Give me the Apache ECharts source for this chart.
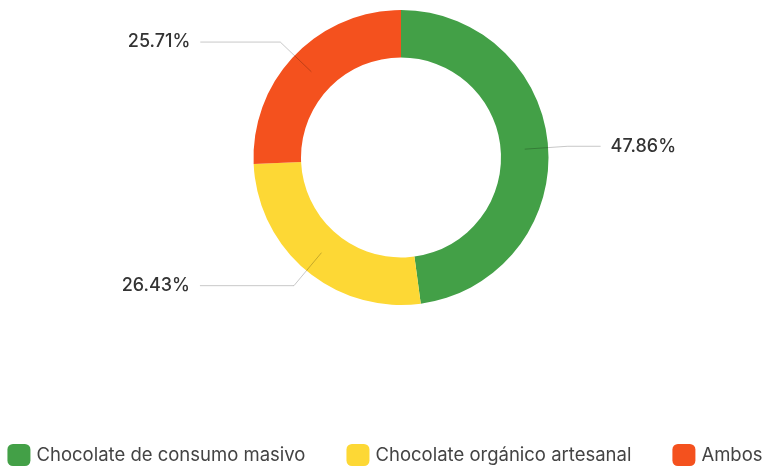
<!DOCTYPE html>
<html>
<head>
<meta charset="utf-8">
<script src="https://cdn.jsdelivr.net/npm/echarts@6/dist/echarts.min.js"></script>
<style>
  html, body { margin: 0; padding: 0; background: #ffffff; }
  #chart { width: 770px; height: 468px; }
</style>
</head>
<body>
<div id="chart"></div>
<script>
// Preferencia de chocolate (% de respuestas)
const categories = ['Chocolate de consumo masivo', 'Chocolate orgánico artesanal', 'Ambos'];
const shares = [47.86, 26.43, 25.71];
const colors = ['#43a047', '#fdd835', '#f4511e'];

// Per-slice length of the horizontal part of each label leader line
const leaderTail = [33, 94, 80];

const FONT = 'Inter, "Noto Sans", sans-serif';
const CENTER = [401, 157.5];

const ringData = categories.map((name, i) => ({
  name,
  value: shares[i],
  itemStyle: { color: colors[i] }
}));

// Transparent copy of the ring, so the leader lines start in the middle of the band
const labelData = categories.map((name, i) => ({
  name,
  value: shares[i],
  labelLine: { length2: leaderTail[i] }
}));

const chart = echarts.init(document.getElementById('chart'), null, { renderer: 'canvas' });

chart.setOption({
  animation: false,
  backgroundColor: '#ffffff',
  legend: {
    data: categories,
    left: 'center',
    top: 444,
    padding: 0,
    itemWidth: 23,
    itemHeight: 22,
    itemGap: 41,
    icon: 'roundRect',
    textStyle: { fontFamily: FONT, fontSize: 18.5, color: '#444444', padding: [0, 0, 0, 1] }
  },
  series: [
    {
      type: 'pie',
      z: 1,
      center: CENTER,
      radius: [100, 147.5],
      startAngle: 90,
      clockwise: true,
      label: { show: false },
      labelLine: { show: false },
      emphasis: { disabled: true },
      data: ringData
    },
    {
      type: 'pie',
      z: 5,
      silent: true,
      center: CENTER,
      radius: [0, 124],
      startAngle: 90,
      clockwise: true,
      itemStyle: { color: 'rgba(0,0,0,0)' },
      emphasis: { disabled: true },
      avoidLabelOverlap: false,
      label: {
        show: true,
        position: 'outside',
        formatter: p => p.value.toFixed(2) + '%',
        fontFamily: FONT,
        fontSize: 18,
        fontWeight: 500,
        color: '#333333',
        distanceToLabelLine: 10
      },
      labelLine: {
        show: true,
        length: 43,
        lineStyle: { color: 'rgba(0,0,0,0.22)', width: 1 }
      },
      data: labelData
    }
  ]
});
</script>
</body>
</html>
